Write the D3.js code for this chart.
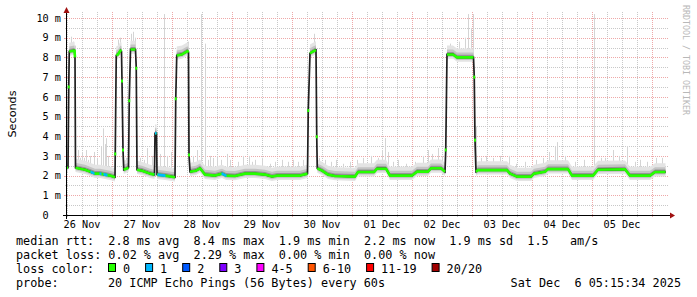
<!DOCTYPE html>
<html><head><meta charset="utf-8">
<script src="https://cdn.jsdelivr.net/npm/d3@7"></script>
<style>
html,body{margin:0;padding:0;background:#fff;}
svg{display:block;}
text{font-family:"DejaVu Sans Mono",monospace;}
</style></head><body>
<svg id="c" width="697" height="297"></svg>
<script>
// ---------- data ----------
const startTime = new Date(2025, 10, 26, 6, 0, 0);
const endTime = new Date(2025, 11, 6, 6, 0, 0);
const yTicks = [0, 1, 2, 3, 4, 5, 6, 7, 8, 9, 10];
const yTickLabels = ["0  ", "1 m", "2 m", "3 m", "4 m", "5 m", "6 m", "7 m", "8 m", "9 m", "10 m"];
// median rtt (ms): [hours since start, value]
const median = [
  [0,2.4],[0.4,2.4],[0.7,6.5],[0.9,8.3],[3.0,8.35],[3.2,8.0],[3.4,2.4],
  [5.2,2.35],[7.2,2.3],[9.2,2.2],[11.2,2.1],[13.2,2.1],[15.2,2.05],[17.2,2.0],[19.2,1.92],
  [19.3,3.1],[19.7,8.1],[20.4,8.15],[21.4,8.35],[21.8,8.3],[22.0,6.8],[22.4,3.3],[22.7,2.3],[24.6,2.4],
  [24.9,5.8],[25.4,8.4],[27.4,8.4],[27.7,7.45],[28.0,2.3],[30.0,2.25],[33.2,2.1],[35.0,2.05],
  [35.2,4.15],[35.8,4.15],[36.0,2.05],[39.2,2.0],[43.2,1.92],
  [43.5,5.9],[43.9,8.1],[46.0,8.15],[48.2,8.32],[48.6,8.25],[48.8,3.05],[49.2,2.2],[51.6,2.25],
  [53.2,2.37],[55.2,2.05],[59.2,2.0],[62.0,2.1],[63.6,2.0],[67.2,1.98],[71.2,2.1],[75.2,2.1],
  [79.2,2.05],[82.0,1.95],[84.0,2.0],[93.2,2.0],[96.2,2.1],
  [96.5,5.3],[97.2,8.2],[98.4,8.3],[99.6,8.37],[99.9,3.97],[100.1,2.37],[102.0,2.25],[104.4,2.05],
  [107.2,1.98],[115.2,1.95],[116.4,2.18],[122.8,2.18],[124.0,2.35],[127.6,2.35],[129.2,2.0],
  [138.0,2.0],[140.0,2.2],[144.4,2.2],[145.6,2.37],[149.6,2.37],[151.2,2.2],
  [151.5,3.3],[152.0,8.15],[154.4,8.15],[156.0,8.0],[162.6,8.0],[162.9,7.0],[163.2,3.8],[163.6,2.2],
  [164.4,2.28],[176.0,2.28],[177.2,2.1],[180.0,1.95],[185.6,1.95],[186.8,2.1],[191.2,2.2],
  [192.4,2.33],[200.4,2.33],[202.0,2.0],[210.4,2.0],[212.4,2.3],[223.2,2.32],[225.2,2.0],
  [233.2,2.0],[235.2,2.18],[239.4,2.18]
];
// periods with 1/20 packets lost: [from hour, to hour]
const loss1Ranges = [[9.6,10.8],[13.2,13.6],[14.8,16.0],[35.2,35.8],[36.4,39.2],[62.0,63.6]];
// tallest single pings (smoke spikes): [hour, value]
const spikes = [
  [1.6,9.05],[2.2,8.8],[3.2,8.6],[4.4,3.3],[5.2,2.9],[6.0,3.2],[6.8,2.9],[7.6,3.3],[8.4,2.8],[9.2,3.0],
  [10.8,3.2],[12.0,2.9],[13.6,3.5],[14.4,4.4],[15.0,3.6],[15.6,3.9],[16.4,3.0],[20.4,8.9],[21.2,9.0],
  [23.6,2.9],[25.6,9.2],[26.4,9.3],[27.2,9.0],[29.2,2.9],[30.8,2.8],[32.0,3.4],[34.0,3.0],[37.2,3.1],
  [38.8,10.2],[40.0,3.0],[41.6,3.2],[44.4,8.5],[45.6,8.5],[46.8,8.6],[48.3,8.8],[50.4,3.0],[52.0,3.3],
  [53.5,10.2],[55.2,8.7],[56.4,2.8],[57.2,3.0],[58.4,2.9],[60.0,3.0],[61.6,2.8],[64.0,3.1],[65.2,2.8],
  [68.4,2.7],[70.4,3.0],[72.8,3.0],[74.0,2.7],[75.2,2.8],[78.0,2.9],[81.2,2.6],[83.2,2.7],[86.0,2.8],
  [88.4,2.7],[90.4,2.8],[92.4,2.7],[94.4,2.8],[98.8,9.2],[100.8,2.9],[103.2,2.8],[105.6,2.7],[107.6,2.8],
  [110.4,2.6],[113.2,2.7],[116.0,2.8],[118.4,2.9],[121.6,3.0],[124.4,2.9],[126.0,3.3],[127.2,3.9],
  [128.4,3.2],[130.4,2.7],[132.4,2.8],[135.6,2.6],[139.2,2.7],[142.4,3.0],[144.4,3.3],[146.0,3.1],
  [148.4,3.4],[150.0,3.0],[153.2,8.7],[156.8,8.8],[159.2,9.0],[160.4,10.2],[161.6,9.5],[162.4,10.2],
  [163.6,4.5],[165.6,2.9],[167.6,3.0],[170.4,2.9],[173.2,3.0],[176.8,3.0],[179.6,2.6],[183.2,2.7],
  [187.6,2.8],[190.4,2.9],[192.8,3.2],[195.2,3.5],[196.0,3.7],[199.2,3.0],[203.2,2.7],[206.8,2.8],
  [210.8,10.2],[213.6,2.9],[215.2,2.9],[218.4,3.3],[220.8,3.0],[224.0,3.5],[227.2,2.7],[229.2,2.8],
  [232.0,2.7],[235.6,2.9],[238.0,2.9]
];
const statsRtt = "median rtt:  2.8 ms avg  8.4 ms max  1.9 ms min  2.2 ms now  1.9 ms sd  1.5   am/s";
const statsLoss = "packet loss: 0.02 % avg  2.29 % max  0.00 % min  0.00 % now";
const lossLabels = ["0", "1", "2", "3", "4-5", "6-10", "11-19", "20/20"];
const lossColors = ["#26ff00", "#00b8ff", "#0059ff", "#7e00ff", "#ff00ff", "#ff5500", "#ff0000", "#a00000"];
const probeText = "20 ICMP Echo Pings (56 Bytes) every 60s";
const stampText = "Sat Dec  6 05:15:34 2025";
const unitLabel = "Seconds";
const watermark = "RRDTOOL / TOBI OETIKER";

// ---------- chart ----------
const svg = d3.select("#c");
const X0 = 67, X1 = 667, Y0 = 215, YT = 13;
const hd = h => new Date(+startTime + h * 3600e3);
const x = d3.scaleTime().domain([startTime, endTime]).range([X0, X1]);
const y = d3.scaleLinear().domain([0, 10]).range([215, 18]);
const px = v => Math.round(v) + 0.5;

svg.append("rect").attr("width", 697).attr("height", 297).attr("fill", "#fff");

const defs = svg.append("defs");
defs.append("clipPath").attr("id", "plot").append("rect")
  .attr("x", X0).attr("y", YT).attr("width", X1 - X0).attr("height", Y0 - YT);
const lossClip = defs.append("clipPath").attr("id", "loss1");
loss1Ranges.forEach(r => lossClip.append("rect")
  .attr("x", x(hd(r[0])) - 0.5).attr("y", 0).attr("width", x(hd(r[1])) - x(hd(r[0])) + 1).attr("height", 297));

// grid
const gGrid = svg.append("g");
const minorH = d3.range(0.5, 10, 1);
const minorV = d3.timeHour.every(6).range(startTime, endTime).filter(d => d.getHours() !== 0);
const majorV = d3.timeDay.range(startTime, endTime);
const gridMinor = "#c8c8c8", gridMajor = "#eea8a8";
minorH.forEach(v => gGrid.append("line").attr("x1", X0).attr("x2", X1 + 2).attr("y1", px(y(v))).attr("y2", px(y(v)))
  .attr("stroke", gridMinor).attr("stroke-dasharray", "1,1"));
minorV.forEach(d => gGrid.append("line").attr("x1", px(x(d))).attr("x2", px(x(d))).attr("y1", YT - 1).attr("y2", Y0 + 2)
  .attr("stroke", gridMinor).attr("stroke-dasharray", "1,1"));
yTicks.slice(1).forEach(v => gGrid.append("line").attr("x1", X0).attr("x2", X1 + 2).attr("y1", px(y(v))).attr("y2", px(y(v)))
  .attr("stroke", gridMajor).attr("stroke-dasharray", "1,1"));
majorV.forEach(d => gGrid.append("line").attr("x1", px(x(d))).attr("x2", px(x(d))).attr("y1", YT - 1).attr("y2", Y0 + 3)
  .attr("stroke", gridMajor).attr("stroke-dasharray", "1,1"));
minorH.forEach(v => gGrid.append("line").attr("x1", X0 - 2).attr("x2", X0).attr("y1", px(y(v))).attr("y2", px(y(v))).attr("stroke", gridMinor));
yTicks.slice(1).forEach(v => gGrid.append("line").attr("x1", X0 - 3).attr("x2", X0).attr("y1", px(y(v))).attr("y2", px(y(v))).attr("stroke", gridMajor));

// smoke
const plot = svg.append("g").attr("clip-path", "url(#plot)");
const mx = median.map(d => d[0]);
const medAt = h => {
  const i = Math.max(1, Math.min(median.length - 1, d3.bisectLeft(mx, h)));
  const a = median[i - 1], b = median[i];
  const t = (h - a[0]) / (b[0] - a[0]);
  return a[1] + (b[1] - a[1]) * Math.max(0, Math.min(1, t));
};
spikes.forEach(s => plot.append("line")
  .attr("x1", px(x(hd(s[0])))).attr("x2", px(x(hd(s[0]))))
  .attr("y1", y(medAt(s[0]))).attr("y2", y(s[1]))
  .attr("stroke", "#d4d4d4").attr("stroke-width", 1));
const layers = [
  {lo: 0.22, hi: 0.45, c: "#e4e4e4"},
  {lo: 0.13, hi: 0.25, c: "#c4c4c4"},
  {lo: 0.07, hi: 0.13, c: "#959595"},
  {lo: 0.04, hi: 0.06, c: "#5a5a5a"}
];
layers.forEach(L => plot.append("path").datum(median)
  .attr("d", d3.area().x(d => x(hd(d[0]))).y0(d => y(d[1] - L.lo)).y1(d => y(d[1] + L.hi)))
  .attr("fill", L.c));

// median line
const line = d3.line().x(d => x(hd(d[0]))).y(d => y(d[1]));
plot.append("path").datum(median).attr("d", line).attr("fill", "none")
  .attr("stroke", "#202020").attr("stroke-width", 1.7);
const steep = i => Math.abs(median[i + 1][1] - median[i][1]) > 0.6;
let gp = "";
let prevFlat = false;
for (let i = 0; i < median.length - 1; i++) {
  if (!steep(i)) {
    const a = median[i], b = median[i + 1];
    if (!prevFlat) gp += `M${x(hd(a[0]))},${y(a[1])}`;
    gp += `L${x(hd(b[0]))},${y(b[1])}`;
    prevFlat = true;
  } else prevFlat = false;
}
const dots = median.filter((d, i) => i > 0 && i < median.length - 1 && steep(i - 1) && steep(i));
const drawLoss = (g, color) => {
  g.append("path").attr("d", gp).attr("fill", "none").attr("stroke", color)
    .attr("stroke-width", 2.6).attr("stroke-linejoin", "round");
  dots.forEach(d => g.append("rect").attr("x", x(hd(d[0])) - 1).attr("y", y(d[1]) - 1.5)
    .attr("width", 2).attr("height", 3).attr("fill", color));
};
drawLoss(plot.append("g"), lossColors[0]);
drawLoss(plot.append("g").attr("clip-path", "url(#loss1)"), lossColors[1]);

// axes
const axisC = "#000";
svg.append("line").attr("x1", X0 - 4).attr("x2", X1 + 4).attr("y1", Y0 + 0.5).attr("y2", Y0 + 0.5).attr("stroke", axisC);
svg.append("line").attr("x1", X0 - 0.5).attr("x2", X0 - 0.5).attr("y1", Y0 + 4).attr("y2", 11).attr("stroke", axisC);
svg.append("path").attr("d", `M${X1 + 3},${Y0 - 2.5}L${X1 + 8},${Y0 + 0.5}L${X1 + 3},${Y0 + 3.5}Z`).attr("fill", "#a01010");
svg.append("path").attr("d", `M${X0 - 3.5},13L${X0 - 0.5},7L${X0 + 2.5},13Z`).attr("fill", "#a01010");

// tick labels
const gy = svg.append("g").attr("font-size", "10.2px").attr("fill", "#000");
yTicks.forEach((v, i) => gy.append("text").attr("x", 61).attr("y", y(v) + 3.7)
  .attr("text-anchor", "end").style("white-space", "pre").attr("xml:space", "preserve").text(yTickLabels[i]));
const fmt = d3.timeFormat("%d %b");
majorV.forEach(d => {
  const noon = d3.timeHour.offset(d, -12);
  gy.append("text").attr("x", x(noon)).attr("y", 227.5).attr("text-anchor", "middle").text(fmt(noon));
});

// unit label & watermark
svg.append("text").attr("transform", "translate(15.5,114) rotate(-90)").attr("text-anchor", "middle")
  .style("font-family", "'DejaVu Sans',sans-serif").attr("font-size", "11.2px").attr("fill", "#000").text(unitLabel);
svg.append("text").attr("transform", "translate(683,5) rotate(90)").attr("font-size", "8.3px")
  .attr("fill", "#b8b8b8").text(watermark);

// legend
const CW = 7.1;
const lg = svg.append("g").attr("font-size", "11.8px").attr("fill", "#000");
const row = (t, xx, yy, anchor) => lg.append("text").attr("x", xx).attr("y", yy)
  .attr("text-anchor", anchor || "start").style("white-space", "pre").attr("xml:space", "preserve").text(t);
row(statsRtt, 16, 245);
row(statsLoss, 16, 259);
row("loss color:", 16, 272.5);
let bx = 108;
lossLabels.forEach((l, i) => {
  lg.append("rect").attr("x", bx + 0.5).attr("y", 263.5).attr("width", 7).attr("height", 8)
    .attr("fill", lossColors[i]).attr("stroke", "#000").attr("stroke-width", 1);
  row(l, bx + 15, 272.5);
  bx += 15 + l.length * CW + 15;
});
row("probe:", 16, 287);
row(probeText, 108, 287);
row(stampText, 681, 287, "end");
</script>
</body></html>
